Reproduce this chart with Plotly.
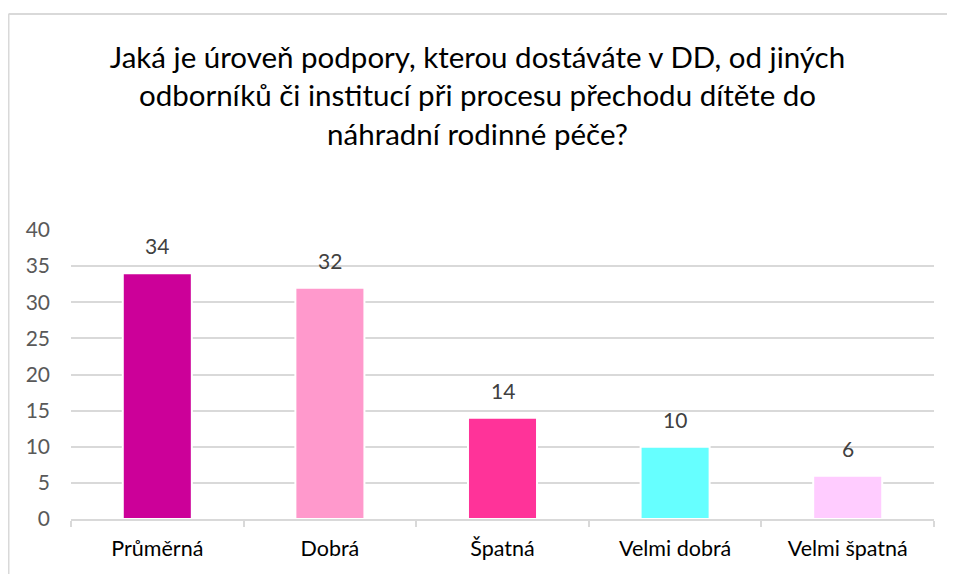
import plotly.graph_objects as go

categories = ["Průměrná", "Dobrá", "Špatná", "Velmi dobrá", "Velmi špatná"]
values = [34, 32, 14, 10, 6]
colors = ["#CC0099", "#FF99CC", "#FF3399", "#66FFFF", "#FFCCFF"]
y_ticks = [0, 5, 10, 15, 20, 25, 30, 35, 40]
title_text = ("Jaká je úroveň podpory, kterou dostáváte v DD, od jiných<br>"
              "odborníků či institucí při procesu přechodu dítěte do<br>"
              "náhradní rodinné péče?")

FONT = "Lato, Open Sans, sans-serif"
# page has 8px body margin; figure sized to fit the 955x574 window
W, H = 947, 566
L, R, T, B = 63, 21, 222, 55
pw, ph = W - L - R, H - T - B

fig = go.Figure()
fig.add_trace(go.Bar(
    x=categories, y=values,
    marker=dict(color=colors, line=dict(color="white", width=2)),
    width=0.40,
    hoverinfo="x+y",
))

for c, v in zip(categories, values):
    fig.add_annotation(x=c, y=v, text=str(v), showarrow=False,
                       yanchor="bottom", yshift=13,
                       font=dict(family=FONT, size=21, color="#404040"))

# chart frame (left and top edges visible)
fx = (0.5 - L) / pw
fy = (H - B - 6) / ph
fig.add_shape(type="line", xref="paper", yref="paper", x0=fx, x1=fx, y0=fy, y1=-1,
              line=dict(color="#D9D9D9", width=2))
fig.add_shape(type="line", xref="paper", yref="paper", x0=fx, x1=2, y0=fy, y1=fy,
              line=dict(color="#D9D9D9", width=2))

fig.update_layout(
    width=W, height=H,
    margin=dict(l=L, r=R, t=T, b=B),
    paper_bgcolor="white", plot_bgcolor="white",
    showlegend=False,
    title=dict(text=title_text, x=(477.5 - 8) / W, xanchor="center", xref="container",
               y=1 - 60 / H, yanchor="top", yref="container",
               font=dict(family=FONT, size=29.5, color="#000000")),
    xaxis=dict(type="category", showgrid=False, showline=True, linecolor="#D9D9D9",
               linewidth=1.5, ticks="outside", tickson="boundaries", ticklen=6,
               tickcolor="#D9D9D9", tickwidth=1.5,
               tickfont=dict(family=FONT, size=21.5, color="#000000"),
               ticklabelstandoff=9),
    yaxis=dict(range=[0, 40], tickvals=y_ticks, showgrid=True, gridcolor="#D9D9D9",
               gridwidth=1.5, zeroline=False, showline=False,
               tickfont=dict(family=FONT, size=21, color="#595959"),
               ticklabelstandoff=20),
    bargap=0.6,
)

fig.write_html("out.html")
